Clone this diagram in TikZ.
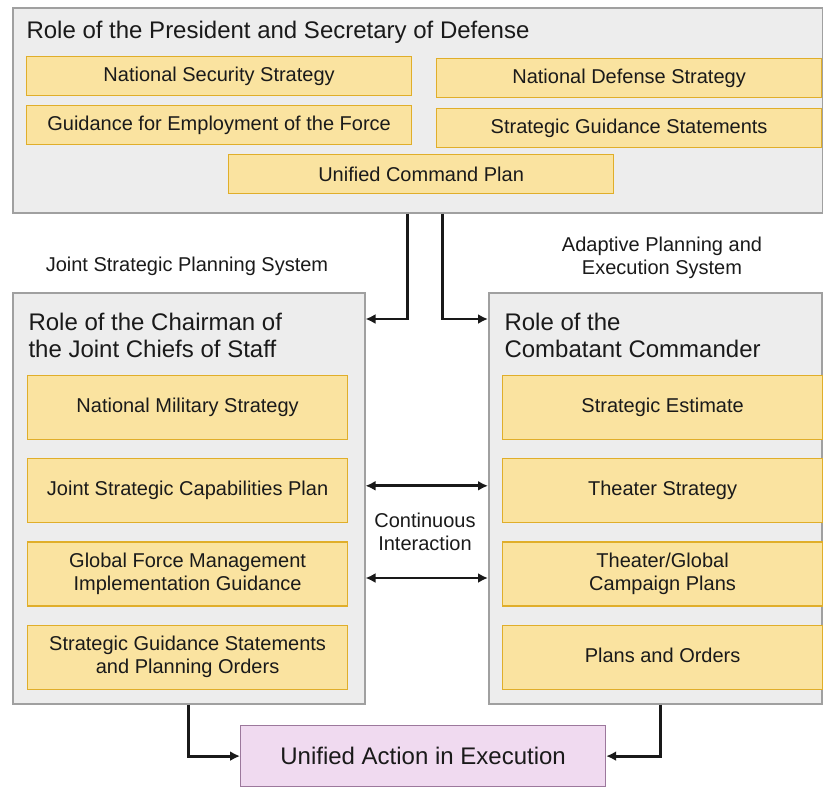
\documentclass[tikz,border=0pt]{standalone}
\usepackage{fontspec}
\setmainfont{Liberation Sans}
\usepackage{tikz}
\usetikzlibrary{arrows.meta, positioning}

\definecolor{roleback}{HTML}{EDEDED}
\definecolor{roleline}{HTML}{A0A0A0}
\definecolor{goldback}{HTML}{FAE3A0}
\definecolor{goldline}{HTML}{E0AE2A}
\definecolor{execback}{HTML}{F0DAF0}
\definecolor{execline}{HTML}{9C789C}
\definecolor{textcol}{HTML}{1A1A1A}

\begin{document}
\begin{tikzpicture}[
x=1pt, y=-1pt,
node distance=18pt,
every node/.style={text=textcol, font=\fontsize{20}{23}\selectfont},
rolebox/.style={draw=roleline, fill=roleback, line width=1.5pt, anchor=north west, inner sep=0pt},
roletitle/.style={font=\fontsize{24}{27}\selectfont, align=left, anchor=west},
goldbox/.style={draw=goldline, fill=goldback, line width=1.2pt, minimum width=320pt, minimum height=64pt, align=center, inner sep=2pt},
topgold/.style={goldbox, minimum width=385pt, minimum height=39pt},
arrow/.style={-{Latex[length=10pt,width=10pt]}, line width=2.8pt, black!90},
dblarrow/.style={{Latex[length=10pt,width=10pt]}-{Latex[length=10pt,width=10pt]}, line width=2.8pt, black!90}
]
\useasboundingbox (0,0) rectangle (823,788);

% President and SecDef
\node[rolebox, minimum width=810pt, minimum height=205pt] (potus) at (12,7) {};
\node[roletitle] (potustitle) at (23,32) {Role of the President and Secretary of Defense};
\node[topgold, anchor=north west] (nss) at (26,56) {National Security Strategy};
\node[topgold, below=9pt of nss] (gef) {Guidance for Employment of the Force};
\node[topgold, anchor=north west] (nds) at (436,58) {National Defense Strategy};
\node[topgold, below=10pt of nds] (sgs) {Strategic Guidance Statements};
\node[topgold, anchor=north west] (ucp) at (228,154) {Unified Command Plan};

% system labels
\node (jsps) at (187,266) {Joint Strategic Planning System};
\node[align=center] (apex) at (662,258) {Adaptive Planning and\\Execution System};

% Chairman
\node[rolebox, minimum width=352pt, minimum height=411pt] (cjcs) at (12,292) {};
\node[roletitle] (cjcstitle) at (25,335) {Role of the Chairman of\\the Joint Chiefs of Staff};
\node[goldbox, anchor=north west] (nms) at (27,375) {\raisebox{5pt}{National Military Strategy}};
\node[goldbox, below=of nms] (jscp) {Joint Strategic Capabilities Plan};
\node[goldbox, below=of jscp] (gfm) {Global Force Management\\Implementation Guidance};
\node[goldbox, below=of gfm] (sgspo) {Strategic Guidance Statements\\and Planning Orders};

% Combatant Commander
\node[rolebox, minimum width=333pt, minimum height=411pt] (ccdr) at (488,292) {};
\node[roletitle] (ccdrtitle) at (501,335) {Role of the\\Combatant Commander};
\node[goldbox, anchor=north west] (se) at (502,375) {\raisebox{2pt}{Strategic Estimate}};
\node[goldbox, below=of se] (ts) {Theater Strategy};
\node[goldbox, below=of ts] (tgcp) {Theater/Global\\Campaign Plans};
\node[goldbox, below=of tgcp] (po) {\raisebox{3pt}{Plans and Orders}};

\node[align=center] (cont) at (425,532) {Continuous\\Interaction};

% execution
\node[draw=execline, fill=execback, line width=1.2pt, minimum width=365pt, minimum height=61pt, anchor=north west, font=\fontsize{24}{27}\selectfont] (action) at (240,725) {Unified Action in Execution};

% arrows
\draw[arrow] ([xshift=-10pt]potus.south) |- ([yshift=-27pt]cjcs.north east);
\draw[arrow] ([xshift=25pt]potus.south) |- ([yshift=-27pt]ccdr.north west);

\coordinate (ci1) at ([yshift=5pt]jscp.east);
\coordinate (ci2) at ([yshift=-4pt]gfm.east);
\draw[dblarrow] (ci1 -| cjcs.east) -- (ci1 -| ccdr.west);
\draw[dblarrow] (ci2 -| cjcs.east) -- (ci2 -| ccdr.west);

\draw[arrow] (cjcs.south) |- (action.west);
\draw[arrow] ([xshift=5pt]ccdr.south) |- (action.east);

\end{tikzpicture}
\end{document}
